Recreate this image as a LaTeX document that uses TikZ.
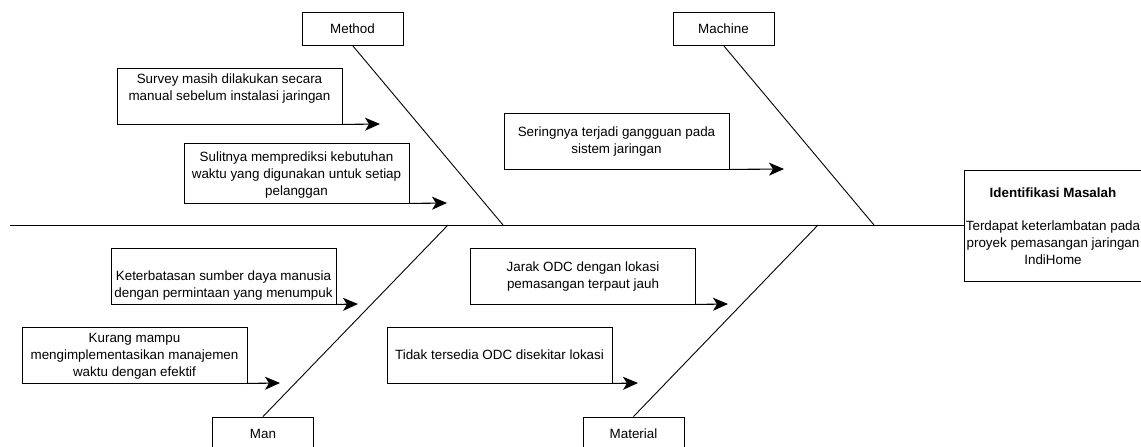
\documentclass[tikz,border=0pt]{standalone}
\usepackage{fontspec}
\setmainfont{Liberation Sans}
\usetikzlibrary{arrows.meta}
\begin{document}
\begin{tikzpicture}[x=1pt,y=-1pt,
  box/.style={draw, line width=0.9pt, inner sep=0pt, align=center, font=\fontsize{13.4}{17}\selectfont},
  catbox/.style={box, minimum width=101, minimum height=33},
  causebox/.style={box, minimum width=225, minimum height=56},
  txt/.style={align=center, font=\fontsize{13.4}{17}\selectfont, inner sep=0pt},
  bone/.style={line width=0.9pt},
  arr/.style={line width=1.1pt, -{Stealth[length=15pt,width=13pt,inset=4pt]}}]
\useasboundingbox (0,0) rectangle (1141,447);
% problem box
\node[box, minimum width=180, minimum height=111] (prob) at (1054,225.5) {};
\node[txt, font=\fontsize{13.4}{17}\selectfont\bfseries] (probtitle) at (1053,193) {Identifikasi Masalah};
\node[txt] (probtext) at (1053,243) {Terdapat keterlambatan pada\\proyek pemasangan jaringan\\IndiHome};
% spine
\coordinate (tail) at (10,225);
\draw[bone] (tail) -- (prob.west |- tail);
% categories
\node[catbox] (method) at (352.5,28.5) {Method};
\node[catbox] (machine) at (723.5,28.5) {Machine};
\node[catbox] (man) at (263,433.5) {Man};
\node[catbox] (material) at (633.5,433.5) {Material};
\coordinate (jmethod) at (503,225);
\coordinate (jmachine) at (874,225);
\coordinate (jman) at (448,225);
\coordinate (jmaterial) at (818,225);
\draw[bone] (method.south) -- (jmethod);
\draw[bone] (machine.south) -- (jmachine);
\draw[bone] (man.north) -- (jman);
\draw[bone] (material.north) -- (jmaterial);
% causes
\node[causebox] (c1) at (229.5,96) {};
\node[txt] (t1) at (229.5,88.5) {Survey masih dilakukan secara\\manual sebelum instalasi jaringan};
\node[causebox, minimum height=60] (c2) at (296.5,173) {};
\node[txt] (t2) at (296.5,175) {Sulitnya memprediksi kebutuhan\\waktu yang digunakan untuk setiap\\pelanggan};
\node[causebox] (c3) at (616.5,141) {};
\node[txt] (t3) at (616.5,141.5) {Seringnya terjadi gangguan pada\\sistem jaringan};
\node[causebox] (c4) at (223.5,276) {};
\node[txt] (t4) at (223.5,285.5) {Keterbatasan sumber daya manusia\\dengan permintaan yang menumpuk};
\node[causebox] (c5) at (134.5,355) {};
\node[txt] (t5) at (134.5,356) {Kurang mampu\\mengimplementasikan manajemen\\waktu dengan efektif};
\node[causebox] (c6) at (583,276) {};
\node[txt] (t6) at (583,276.5) {Jarak ODC dengan lokasi\\pemasangan terpaut jauh};
\node[causebox] (c7) at (499.5,355) {};
\node[txt] (t7) at (499.5,355) {Tidak tersedia ODC disekitar lokasi};
% arrow ends
\coordinate (e1) at (380,124);
\coordinate (e2) at (447,203);
\coordinate (e3) at (784,169);
\coordinate (e4) at (358,304);
\coordinate (e5) at (280,383);
\coordinate (e6) at (728,304);
\coordinate (e7) at (638,383);
\draw[arr] (c1.south east) -- (e1);
\draw[arr] (c2.south east) -- (e2);
\draw[arr] (c3.south east) -- (e3);
\draw[arr] (c4.south east) -- (e4);
\draw[arr] (c5.south east) -- (e5);
\draw[arr] (c6.south east) -- (e6);
\draw[arr] (c7.south east) -- (e7);
\end{tikzpicture}
\end{document}
